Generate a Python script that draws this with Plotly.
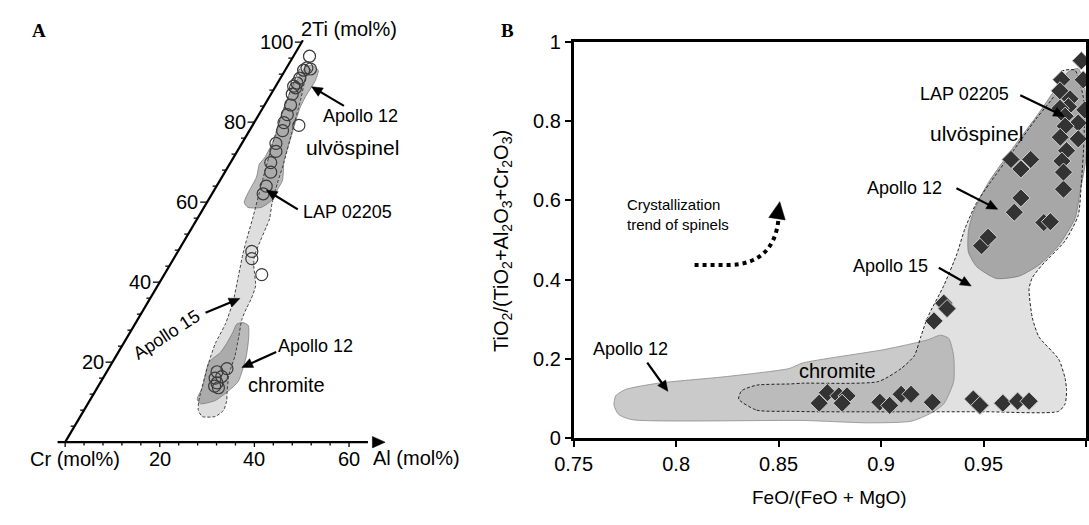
import numpy as np
import plotly.graph_objects as go

W, H = 1089, 525
FONT = "Liberation Sans, Arial, sans-serif"

# ---------------- Panel A : ternary 2Ti - Cr - Al (mol%) ----------------
# LAP 02205 spinel analyses (open circles)
a_ti = [96.5, 93.6, 93.3, 93.0, 91.0, 89.8, 89.0, 88.6, 87.0, 84.3, 81.9, 79.9, 77.9, 79.2,
        74.7, 72.7, 69.9, 67.5, 64.0, 62.1, 47.7, 45.9, 41.9,
        18.4, 17.6, 16.4, 16.0, 14.8, 14.0, 13.6]
a_al = [3.4, 4.3, 5.2, 3.9, 4.1, 4.1, 3.8, 4.4, 4.5, 5.5, 6.0, 6.3, 7.0, 9.8,
        7.2, 8.2, 8.5, 9.7, 10.5, 10.8, 15.6, 16.5, 20.6,
        25.0, 23.3, 24.9, 23.7, 24.7, 24.6, 25.6]

# Apollo 15 field (light, dashed)
a15_ti = [94.4, 93.0, 91.8, 85.5, 77.4, 70.2, 64.7, 59.9, 55.8, 53.9, 50.3, 46.7, 44.3, 39.1,
          35.9, 33.5, 30.7, 26.4, 21.6, 16.8, 12.0, 10.3, 7.9, 6.4, 6.4, 7.9, 10.3, 19.9,
          24.7, 29.5, 35.2, 41.4, 47.2, 51.5, 55.8, 65.4, 74.3, 81.5, 87.9, 93.4]
a15_al = [3.2, 5.4, 5.1, 7.0, 9.2, 11.2, 12.5, 13.8, 15.3, 15.6, 16.1, 16.7, 17.7, 20.7,
          21.4, 21.6, 22.0, 23.5, 25.1, 26.2, 28.2, 29.0, 29.5, 28.5, 25.8, 24.2, 23.1, 20.4,
          19.4, 19.1, 17.9, 15.9, 14.0, 12.8, 11.7, 9.0, 6.6, 4.9, 3.7, 2.9]
# Apollo 12 ulvospinel field
a12u_ti = [94.2, 93.0, 90.2, 87.0, 83.8, 75.9, 70.3, 65.5, 63.1, 60.7, 58.7, 58.7, 59.9,
           62.3, 66.3, 69.5, 71.1, 75.9, 81.5, 87.9, 91.8, 93.8]
a12u_al = [5.0, 7.0, 7.7, 7.6, 7.8, 9.7, 11.1, 13.2, 13.3, 13.5, 12.1, 9.3, 7.9,
           7.5, 7.3, 6.3, 6.6, 6.3, 4.9, 3.7, 3.8, 3.9]
# Apollo 12 chromite field
a12c_ti = [29.9, 29.2, 26.4, 21.6, 15.2, 12.8, 10.4, 9.6, 10.8, 13.6, 20.0, 22.4, 24.7, 27.6, 29.5]
a12c_al = [22.6, 24.1, 25.6, 27.5, 29.0, 28.1, 26.5, 23.8, 22.5, 22.2, 20.4, 21.6, 21.8, 21.7, 21.5]

ti_ticks = list(range(0, 101, 4))
ti_labels = [20, 40, 60, 80, 100]
al_ticks = list(range(0, 61, 4))
al_labels = [20, 40, 60]

# ---------------- Panel B ----------------
b_x = [0.8738, 0.8698, 0.8794, 0.8834, 0.881, 0.8994, 0.9042, 0.9098, 0.9146, 0.925, 0.945,
       0.9482, 0.9594, 0.9666, 0.9722, 0.9258, 0.9306, 0.9322, 0.949, 0.9522, 0.965, 0.9682,
       0.9794, 0.9826, 0.989, 0.9977, 0.9881, 0.9986, 0.9873, 0.9922, 0.9914, 0.9873, 0.9898,
       0.9962, 0.9898, 0.9874, 0.9962, 0.9905, 0.9882, 0.989, 0.9634, 0.9682, 0.973, 0.9994]
b_y = [0.115, 0.0886, 0.107, 0.107, 0.0886, 0.091, 0.083, 0.111, 0.111, 0.091, 0.099,
       0.083, 0.0886, 0.0935, 0.0935, 0.296, 0.3406, 0.327, 0.4855, 0.507, 0.570, 0.606,
       0.544, 0.546, 0.628, 0.952, 0.904, 0.904, 0.876, 0.856, 0.836, 0.832, 0.812,
       0.795, 0.787, 0.759, 0.755, 0.725, 0.699, 0.671, 0.703, 0.679, 0.703, 0.828]

b15_x = [0.8305, 0.8393, 0.855, 0.87, 0.95, 0.9866, 0.9898, 0.9905, 0.9898, 0.9866, 0.977, 0.9738,
         0.9722, 0.9738, 0.9786, 0.9898, 0.9962, 0.9977, 0.999, 0.999, 0.9946, 0.988, 0.985,
         0.9754, 0.9642, 0.953, 0.9466, 0.941, 0.937, 0.9306, 0.9226, 0.9194, 0.9162, 0.9098,
         0.8986, 0.8618, 0.8552, 0.8393, 0.832]
b15_y = [0.099, 0.071, 0.068, 0.067, 0.067, 0.068, 0.087, 0.12, 0.151, 0.20, 0.256, 0.304,
         0.377, 0.405, 0.437, 0.498, 0.562, 0.643, 0.75, 0.85, 0.928, 0.925, 0.868,
         0.804, 0.723, 0.643, 0.594, 0.53, 0.465, 0.385, 0.304, 0.256, 0.208, 0.176,
         0.143, 0.139, 0.137, 0.134, 0.12]
b12c_x = [0.7697, 0.7705, 0.7753, 0.7913, 0.8233, 0.8552, 0.8618, 0.9018, 0.9226, 0.929, 0.933,
          0.9354, 0.9354, 0.9306, 0.9242, 0.9146, 0.8938, 0.8618, 0.7785, 0.772]
b12c_y = [0.083, 0.107, 0.123, 0.139, 0.155, 0.176, 0.19, 0.224, 0.248, 0.26, 0.252,
          0.208, 0.143, 0.087, 0.063, 0.043, 0.039, 0.045, 0.047, 0.06]
b12u_x = [0.9426, 0.945, 0.9482, 0.953, 0.9642, 0.977, 0.9866, 0.9914, 0.9962, 0.9994, 1.0,
          0.997, 0.9946, 0.9866, 0.977, 0.9674, 0.9562, 0.9466, 0.9426]
b12u_y = [0.522, 0.570, 0.606, 0.65, 0.731, 0.82, 0.892, 0.924, 0.932, 0.884, 0.708,
          0.618, 0.554, 0.486, 0.437, 0.409, 0.403, 0.433, 0.47]

bx_ticks = [0.75, 0.8, 0.85, 0.9, 0.95, 1.0]
bx_text = ["0.75", "0.8", "0.85", "0.9", "0.95", "1"]
by_ticks = [0, 0.2, 0.4, 0.6, 0.8, 1.0]
by_text = ["0", "0.2", "0.4", "0.6", "0.8", "1"]

# ---------------- helpers ----------------
SQ = np.sqrt(3) / 2
S, OX, OY = 4.82, 47.0, 450.0   # px per mol%, origin pixel of panel A


def tern(ti, al):
    ti = np.asarray(ti, float)
    al = np.asarray(al, float)
    return al + ti / 2, ti * SQ


def closed(x, y):
    return list(x) + [x[0]], list(y) + [y[0]]


def P(px, py):
    return px / W, 1 - py / H


fig = go.Figure()

# ---- Panel A fields
x15, y15 = tern(a15_ti, a15_al)
x15, y15 = closed(x15, y15)
fig.add_trace(go.Scatter(x=x15, y=y15, mode="lines", fill="toself", fillcolor="#dedede",
                         line=dict(width=0, shape="spline", smoothing=0.6),
                         xaxis="x", yaxis="y", hoverinfo="skip"))
for ti, al in [(a12u_ti, a12u_al), (a12c_ti, a12c_al)]:
    xx, yy = tern(ti, al)
    xx, yy = closed(xx, yy)
    fig.add_trace(go.Scatter(x=xx, y=yy, mode="lines", fill="toself",
                             fillcolor="rgba(120,120,120,0.5)",
                             line=dict(width=0.8, color="#7a7a7a", shape="spline", smoothing=0.6),
                             xaxis="x", yaxis="y", hoverinfo="skip"))
fig.add_trace(go.Scatter(x=x15, y=y15, mode="lines",
                         line=dict(width=0.9, color="#333", dash="3px,2px", shape="spline", smoothing=0.6),
                         xaxis="x", yaxis="y", hoverinfo="skip"))

# ---- Panel A axes
tx, ty = tern([0, 100.5], [0, 0])
fig.add_trace(go.Scatter(x=tx, y=ty, mode="lines", line=dict(color="black", width=2.2),
                         xaxis="x", yaxis="y", hoverinfo="skip"))
bx, by = tern([0, 0], [-1.6, 64])
fig.add_trace(go.Scatter(x=bx, y=by, mode="lines", line=dict(color="black", width=2.2),
                         xaxis="x", yaxis="y", hoverinfo="skip"))
tkx, tky = [], []
for t in ti_ticks:
    X, Y = tern(t, 0)
    L = (7 if t % 20 == 0 else 4) / S
    tkx += [float(X) - L, float(X), None]
    tky += [float(Y), float(Y), None]
for a in al_ticks:
    X, Y = tern(0, a)
    L = (5 if a % 20 == 0 else 3.5) / S
    tkx += [float(X), float(X), None]
    tky += [float(Y), float(Y) - L, None]
fig.add_trace(go.Scatter(x=tkx, y=tky, mode="lines", line=dict(color="black", width=1.3),
                         xaxis="x", yaxis="y", hoverinfo="skip"))

# ---- Panel A data
cx, cy = tern(a_ti, a_al)
fig.add_trace(go.Scatter(x=cx, y=cy, mode="markers",
                         marker=dict(symbol="circle", size=12, color="rgba(255,255,255,0)",
                                     line=dict(color="#3a3a3a", width=1.2)),
                         xaxis="x", yaxis="y", hoverinfo="skip"))

# ---- Panel B fields
bx15, by15 = closed(b15_x, b15_y)
fig.add_trace(go.Scatter(x=bx15, y=by15, mode="lines", fill="toself", fillcolor="#e1e1e1",
                         line=dict(width=0, shape="spline", smoothing=0.6),
                         xaxis="x2", yaxis="y2", hoverinfo="skip"))
bxc, byc = closed(b12c_x, b12c_y)
fig.add_trace(go.Scatter(x=bxc, y=byc, mode="lines", fill="toself",
                         fillcolor="rgba(150,150,150,0.5)",
                         line=dict(width=0.8, color="#8a8a8a", shape="spline", smoothing=0.6),
                         xaxis="x2", yaxis="y2", hoverinfo="skip"))
bxu, byu = closed(b12u_x, b12u_y)
fig.add_trace(go.Scatter(x=bxu, y=byu, mode="lines", fill="toself",
                         fillcolor="rgba(120,120,120,0.55)",
                         line=dict(width=0.8, color="#7a7a7a", shape="spline", smoothing=0.6),
                         xaxis="x2", yaxis="y2", hoverinfo="skip"))
fig.add_trace(go.Scatter(x=bx15, y=by15, mode="lines",
                         line=dict(width=1, color="#222", dash="3px,2px", shape="spline", smoothing=0.6),
                         xaxis="x2", yaxis="y2", hoverinfo="skip"))
fig.add_trace(go.Scatter(x=b_x, y=b_y, mode="markers",
                         marker=dict(symbol="diamond", size=14, color="#333333",
                                     line=dict(color="#cfcfcf", width=1)),
                         xaxis="x2", yaxis="y2", hoverinfo="skip"))

# ---------------- annotations & decorative shapes ----------------
ann = []
shapes = []


def text(px, py, s, size=15, xanchor="center", angle=0, bold=False, family=FONT, align="center"):
    x, y = P(px, py)
    ann.append(dict(x=x, y=y, xref="paper", yref="paper", text=("<b>%s</b>" % s) if bold else s,
                    showarrow=False, xanchor=xanchor, yanchor="middle", textangle=angle,
                    align=align, font=dict(family=family, size=size, color="black")))


def arrow(hx, hy, tx_, ty_, head=11.0, hw=5.0, lw=2.2):
    d = np.array([hx - tx_, hy - ty_], float)
    d /= np.hypot(*d)
    n = np.array([-d[1], d[0]])
    base = np.array([hx, hy]) - d * head
    x0, y0 = P(tx_, ty_)
    x1, y1 = P(*(base + d * 1.0))
    if lw > 0:
        shapes.append(dict(type="line", xref="paper", yref="paper", x0=x0, y0=y0, x1=x1, y1=y1,
                           line=dict(color="black", width=lw)))
    pts = [P(hx, hy), P(*(base + n * hw)), P(*(base - n * hw))]
    path = "M %.5f,%.5f L %.5f,%.5f L %.5f,%.5f Z" % (pts[0] + pts[1] + pts[2])
    shapes.append(dict(type="path", xref="paper", yref="paper", path=path,
                       fillcolor="black", line=dict(color="black", width=0.5)))


# panel labels
text(20, 20, "A", size=19, bold=True, family="Liberation Serif, Times New Roman, serif")
text(498, 20, "B", size=19, bold=True, family="Liberation Serif, Times New Roman, serif")

# panel A tick labels
for t in ti_labels:
    X, Y = tern(t, 0)
    ann.append(dict(x=float(X) - 7 / S, y=float(Y), xref="x", yref="y", text=str(t), showarrow=False,
                    xanchor="right", yanchor="middle", font=dict(family=FONT, size=20, color="black")))
for a in al_labels:
    X, Y = tern(0, a)
    ann.append(dict(x=float(X), y=float(Y) - 18 / S, xref="x", yref="y", text=str(a), showarrow=False,
                    xanchor="center", yanchor="middle", font=dict(family=FONT, size=20, color="black")))
text(359, 467, "Al (mol%)", size=20, xanchor="left")
text(57, 468, "Cr (mol%)", size=20)
text(285, 19, "2Ti (mol%)", size=20, xanchor="left")
# arrow tip of Al axis
arrow(373, 450, 355, 450, head=13, hw=6, lw=0)

# panel A labels
text(348, 110, "Apollo 12", size=18)
arrow(298, 79, 331, 99)
text(340, 142, "ulvöspinel", size=21)
text(335, 210, "LAP 02205", size=18)
arrow(252, 187, 284, 207)
text(150, 338, "Apollo 15", size=18, angle=-33)
arrow(225, 300, 190, 315)
text(302, 350, "Apollo 12", size=18)
arrow(227, 372, 262, 356)
text(273, 390, "chromite", size=20)

# panel B labels
text(963, 87, "LAP 02205", size=18)
arrow(1065, 110, 1020, 88)
text(975, 128, "ulvöspinel", size=21)
text(902, 185, "Apollo 12", size=18)
arrow(997, 207, 955, 185)
text(888, 266, "Apollo 15", size=18)
arrow(970, 287, 937, 268)
text(623, 353, "Apollo 12", size=18)
arrow(661, 397, 640, 367)
text(834, 376, "chromite", size=20)
text(617, 212, "Crystallization<br>trend of spinels", size=15, xanchor="left", align="left")

# axis titles panel B
text(826, 508, "FeO/(FeO + MgO)", size=19)
text(493, 240, "TiO<sub>2</sub>/(TiO<sub>2</sub>+Al<sub>2</sub>O<sub>3</sub>+Cr<sub>2</sub>O<sub>3</sub>)",
     size=20, angle=-90)

# crystallization trend: dotted curve + arrow head
shapes.append(dict(type="path", xref="x2", yref="y2",
                   path="M 0.809,0.437 L 0.826,0.437 Q 0.848,0.44 0.850,0.555",
                   line=dict(color="black", width=4, dash="dot")))
arrow(775, 199, 772, 218, head=18, hw=8.5, lw=0)

xd1 = 0.44
fig.update_layout(
    width=W, height=H, margin=dict(l=0, r=0, t=0, b=0),
    paper_bgcolor="white", plot_bgcolor="rgba(0,0,0,0)",
    showlegend=False, font=dict(family=FONT, size=16, color="black"),
    annotations=ann, shapes=shapes,
    xaxis=dict(domain=[0, xd1], range=[-OX / S, (xd1 * W - OX) / S], visible=False),
    yaxis=dict(domain=[0, 1], range=[-(H - OY) / S, OY / S], visible=False),
    xaxis2=dict(domain=[565 / W, 1087 / W], range=[0.75, 1.0], anchor="y2",
                tickvals=bx_ticks, ticktext=bx_text, showline=True, mirror=True,
                linecolor="black", linewidth=2.5, ticks="outside", ticklen=6, tickwidth=2,
                tickcolor="black", showgrid=False, zeroline=False,
                tickfont=dict(family=FONT, size=20)),
    yaxis2=dict(domain=[1 - 446 / H, 1 - 32 / H], range=[0, 1.0], anchor="x2",
                tickvals=by_ticks, ticktext=by_text, showline=True, mirror=True,
                linecolor="black", linewidth=2.5, ticks="outside", ticklen=6, tickwidth=2,
                tickcolor="black", showgrid=False, zeroline=False,
                tickfont=dict(family=FONT, size=20)),
)

fig.write_html("out.html")
